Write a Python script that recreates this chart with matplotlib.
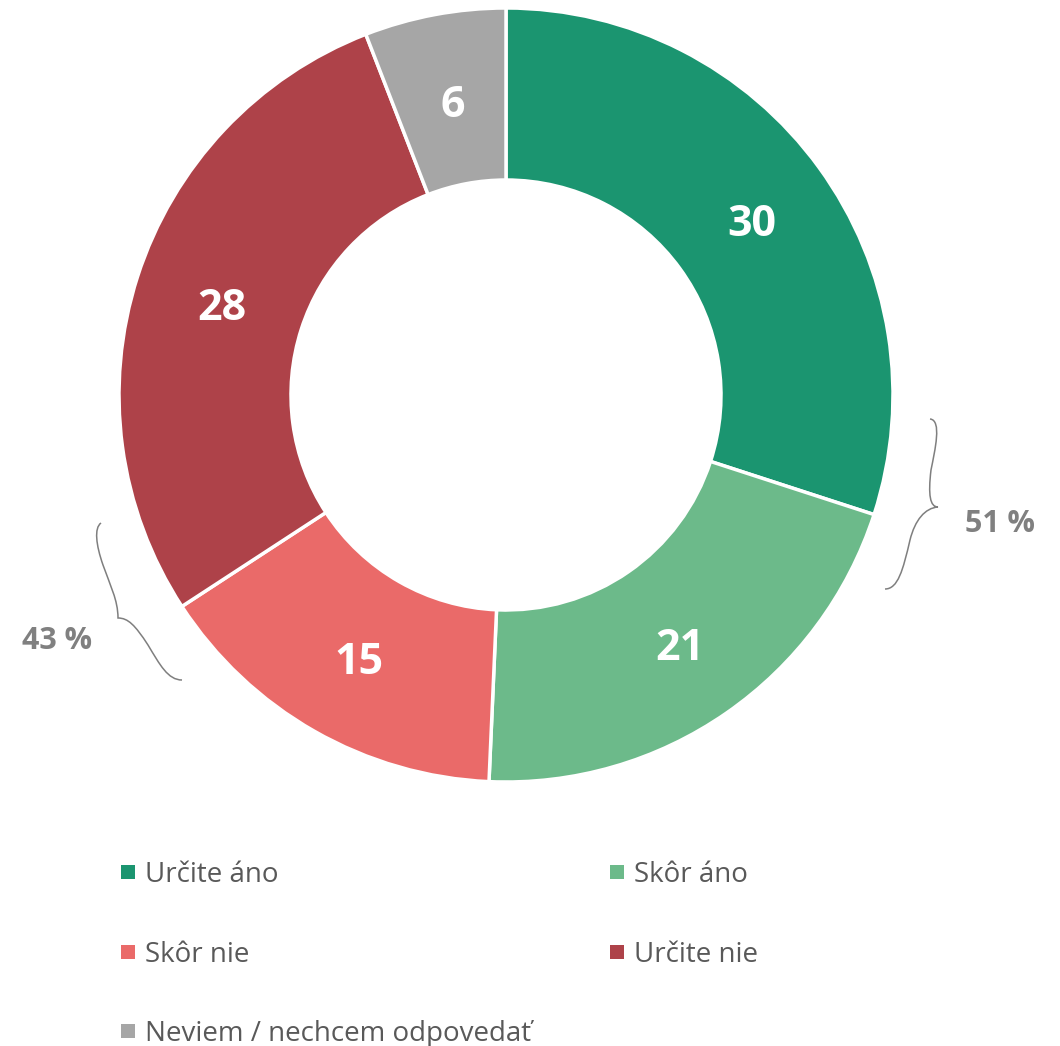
import matplotlib.pyplot as plt
from matplotlib.path import Path
from matplotlib.patches import PathPatch

categories = ["Určite áno", "Skôr áno", "Skôr nie", "Určite nie", "Neviem / nechcem odpovedať"]
values = [30.0, 20.7, 15.1, 28.3, 5.9]
colors = ["#1B9570", "#6CBA8A", "#EA6A69", "#AE4249", "#A6A6A6"]
group_labels = ["51 %", "43 %"]

H = 1046
fig = plt.figure(figsize=(10.6, 10.46), dpi=100)
ax = fig.add_axes([0, 0, 1, 1])

# donut
cx, cy, r_out, r_in = 506, H - 395, 387, 215
wedges, texts, autotexts = ax.pie(
    values, colors=colors, startangle=90, counterclock=False,
    center=(cx, cy), radius=r_out, frame=True,
    wedgeprops=dict(width=r_out - r_in, edgecolor="white", linewidth=2.5),
    autopct=lambda p: f"{p:.0f}", pctdistance=(r_out + r_in) / 2 / r_out,
    textprops=dict(color="white", fontsize=31, fontweight="bold", family="Open Sans"))
for t in autotexts:
    x, y = t.get_position()
    t.set_position((x + 2, y - 6))
ax.set_xlim(0, 1060)
ax.set_ylim(0, H)
ax.set_aspect("equal")
ax.axis("off")


def brace(pts):
    # pts in pixel coords (y down): start, then groups of 3 cubic bezier points
    verts = [(x, H - y) for x, y in pts]
    codes = [Path.MOVETO] + [Path.CURVE4] * (len(verts) - 1)
    ax.add_patch(PathPatch(Path(verts, codes), fill=False, edgecolor="#7F7F7F", lw=1.1))


# right brace (51 %)
brace([(930, 419), (942, 420), (935, 450), (931, 470),
       (928, 495), (930, 507), (938, 507),
       (925, 508), (915, 520), (910, 540),
       (903, 570), (898, 589), (885, 589)])
# left brace (43 %)
brace([(101, 523), (94, 528), (96, 545), (103, 565),
       (110, 585), (118, 600), (118, 618),
       (128, 618), (135, 625), (148, 645),
       (160, 665), (168, 680), (182, 680)])

ax.text(1000, H - 524, group_labels[0], color="#808080", fontsize=22, fontweight="bold",
        family="Open Sans", ha="center", va="center")
ax.text(57, H - 641, group_labels[1], color="#808080", fontsize=22, fontweight="bold",
        family="Open Sans", ha="center", va="center")

# legend
leg_pos = [(128, 872), (617, 872), (128, 952), (617, 952), (128, 1031)]
for (lx, ly), lab, col in zip(leg_pos, categories, colors):
    ax.scatter(lx, H - ly, marker="s", s=95, color=col, linewidths=0)
    ax.text(lx + 17, H - ly - 3, lab, color="#595959", fontsize=20, family="Open Sans",
            ha="left", va="center")

fig.savefig("out.png", dpi=100)
